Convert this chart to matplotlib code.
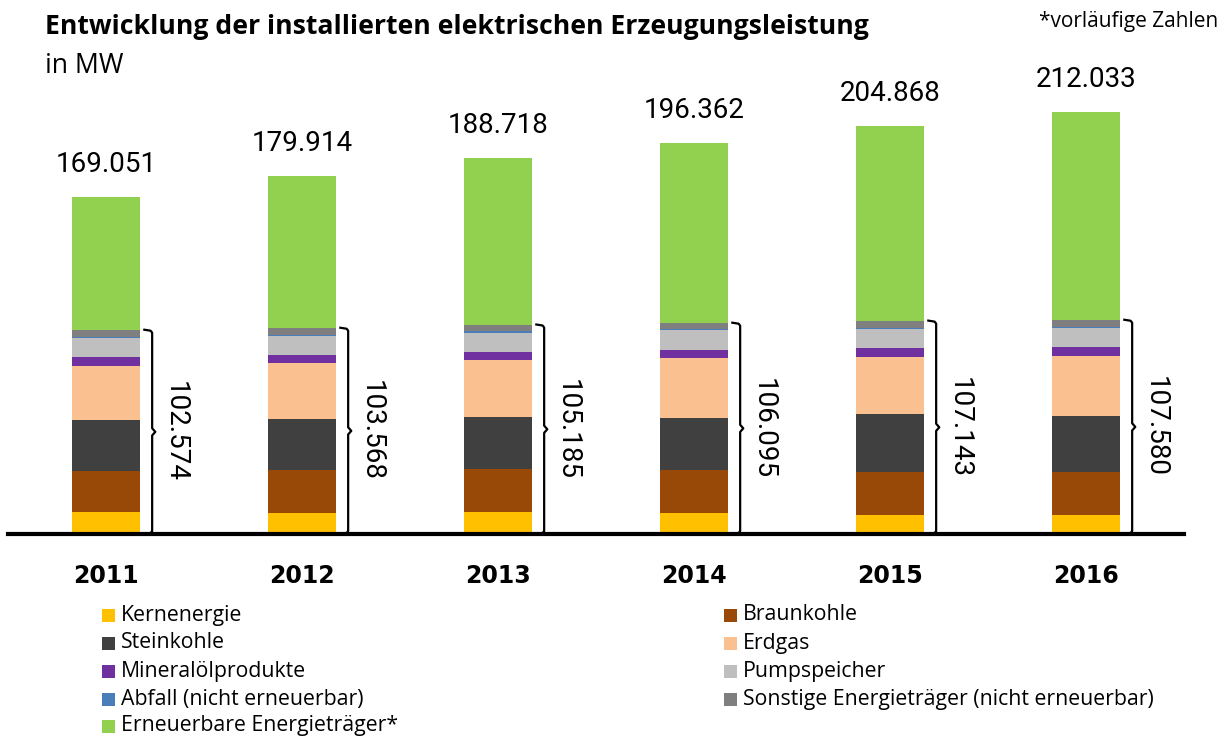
import numpy as np
import matplotlib
matplotlib.use("Agg")
import matplotlib.pyplot as plt
from matplotlib.patches import Rectangle

# --------------------
# Data (MW)
# --------------------
years = ["2011", "2012", "2013", "2014", "2015", "2016"]
categories = ["Kernenergie", "Braunkohle", "Steinkohle", "Erdgas", "Mineralölprodukte",
              "Pumpspeicher", "Abfall (nicht erneuerbar)",
              "Sonstige Energieträger (nicht erneuerbar)", "Erneuerbare Energieträger*"]
kernenergie = [11200, 10600, 11000, 10600, 9300, 9600]
braunkohle = [20300, 21400, 21700, 21300, 21600, 21600]
steinkohle = [25900, 25700, 26100, 26500, 29400, 27900]
erdgas = [27200, 28208, 28800, 29795, 28633, 30030]
mineraloel = [4500, 4200, 3900, 4400, 4250, 4700]
pumpspeicher = [9250, 9100, 9600, 9600, 9800, 9750]
abfall = [800, 860, 660, 500, 660, 500]
sonstige = [3424, 3500, 3425, 3400, 3500, 3500]
erneuerbare = [66477, 76346, 83533, 90267, 97725, 104453]
conv_total = [102574, 103568, 105185, 106095, 107143, 107580]
total = [169051, 179914, 188718, 196362, 204868, 212033]

series = [kernenergie, braunkohle, steinkohle, erdgas, mineraloel,
          pumpspeicher, abfall, sonstige, erneuerbare]
colors = ["#FFC000", "#984807", "#404040", "#FAC090", "#7030A0",
          "#BFBFBF", "#4A7EBB", "#7F7F7F", "#92D050"]

W, H = 1226, 740
num_font = ["Roboto", "DejaVu Sans"]
txt_font = ["Open Sans", "DejaVu Sans"]

fig = plt.figure(figsize=(W / 100, H / 100), dpi=100)
ax = fig.add_axes([8 / W, 206 / H, 1176 / W, 474 / H])

x = np.arange(len(years))
bw = 0.347
bottom = np.zeros(len(years))
for vals, col in zip(series, colors):
    ax.bar(x, vals, bw, bottom=bottom, color=col, edgecolor="none", zorder=2)
    bottom += np.array(vals)

ax.set_xlim(-0.5, 5.5)
ax.set_ylim(0, 238000)
ax.set_yticks([])
ax.set_xticks([])
for s in ["left", "right", "top"]:
    ax.spines[s].set_visible(False)
ax.spines["bottom"].set_linewidth(3)
ax.spines["bottom"].set_zorder(5)

# totals above bars
for i, t in enumerate(total):
    ax.annotate(f"{t:,}".replace(",", "."), xy=(i, t), xytext=(0, 18),
                textcoords="offset points", ha="center", va="baseline",
                fontsize=20, family=num_font, annotation_clip=False)

# year labels
for i, y in enumerate(years):
    ax.annotate(y, xy=(i, 0), xytext=(0, -30), textcoords="offset points",
                ha="center", va="center", fontsize=17, fontweight="bold",
                family="DejaVu Sans", annotation_clip=False)

# braces for conventional total
for i, c in enumerate(conv_total):
    bx = i + bw / 2 + 0.062
    hook = 0.04
    mid = c / 2
    dy = 1800
    px = [bx - hook, bx - 0.008, bx, bx, bx + 0.016, bx, bx, bx - 0.008, bx - hook]
    py = [c, c - 500, c - 1500, mid + dy, mid, mid - dy, 1500, 500, 0]
    ax.plot(px, py, color="black", lw=1.6, zorder=3, clip_on=False,
            solid_joinstyle="round")
    ax.text(i + 0.352, mid, f"{c:,}".replace(",", "."), rotation=-90,
            ha="center", va="center", fontsize=20, family=num_font)

# titles
fig.text(45 / W, 1 - 34 / H, "Entwicklung der installierten elektrischen Erzeugungsleistung",
         fontsize=19.2, fontweight="bold", family=txt_font, va="baseline")
fig.text(45 / W, 1 - 73 / H, "in MW", fontsize=19.2, family=txt_font, va="baseline")
fig.text(1218 / W, 1 - 22 / H, "*vorläufige Zahlen", fontsize=15,
         family=txt_font, ha="right", va="center")

# legend (row-major, two columns)
rows_y = [615, 643, 671, 699, 726]
col_x = [102, 724]
for k, (lab, col) in enumerate(zip(categories, colors)):
    r, cidx = divmod(k, 2)
    yc = rows_y[r]
    x0 = col_x[cidx]
    fig.add_artist(Rectangle((x0 / W, 1 - (yc + 6.5) / H), 13 / W, 13 / H,
                             transform=fig.transFigure, facecolor=col,
                             edgecolor="none"))
    fig.text((x0 + 19) / W, 1 - yc / H, lab, fontsize=15.3, family=txt_font,
             va="center", ha="left")

fig.savefig("out.png", dpi=100)
